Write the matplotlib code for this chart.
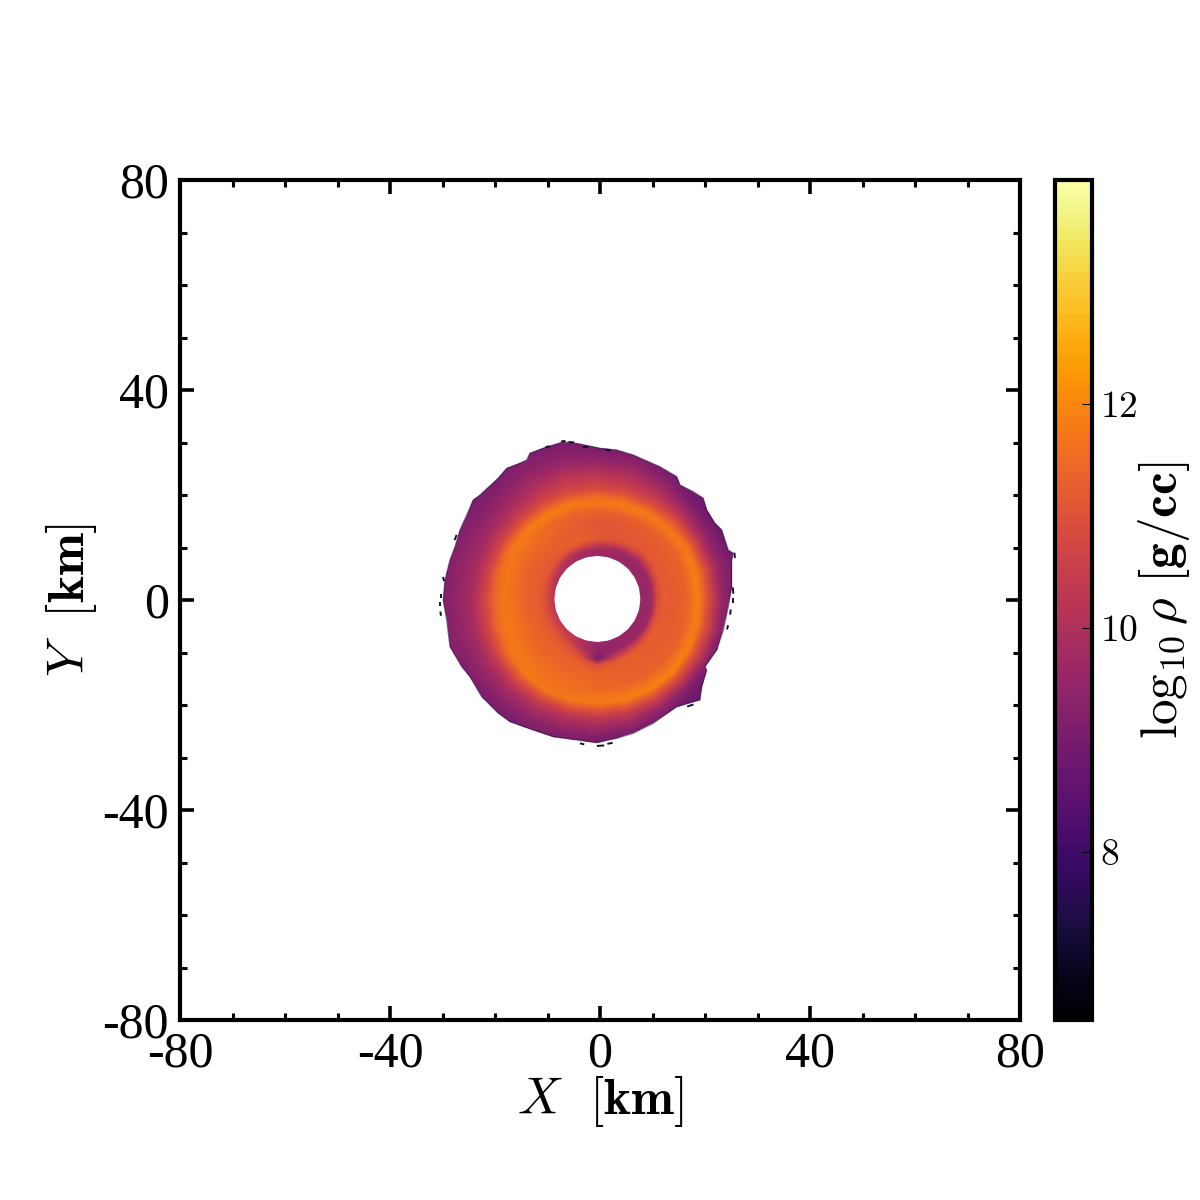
import numpy as np
import matplotlib
matplotlib.use("Agg")
import matplotlib.pyplot as plt
from matplotlib.patches import Polygon
from matplotlib.collections import LineCollection
from matplotlib.ticker import MultipleLocator, FixedLocator

# --- data ---
hole_centre = (-0.5, 0.2)
angles_deg = [0,15,30,45,60,75,90,105,120,135,150,165,180,195,210,225,240,255,270,285,300,315,330,345]
radii_km = [8.3, 9.5, 10.5, 11.5, 12.5, 14, 15.5, 17, 18, 19, 20, 21, 22.5, 24, 26, 28, 32]
log_rho = [
 [9.6,9.6,9.6,9.6,9.6,9.6,9.7,9.7,9.8,9.9,10.0,10.1,10.2,10.3,10.3,10.3,10.2,9.9,9.6,9.6,9.6,9.6,9.6,9.6],
 [9.6,9.6,9.6,9.6,9.6,9.7,9.8,9.9,10.0,10.3,10.5,10.7,10.8,10.8,10.8,10.8,10.5,9.9,9.5,9.5,9.6,9.6,9.6,9.6],
 [9.8,9.7,9.7,9.7,9.9,10.2,10.5,10.8,10.9,11.0,11.1,11.1,11.1,11.1,11.1,11.1,11.0,10.3,9.3,9.6,9.7,9.7,9.7,9.7],
 [10.9,10.8,10.6,10.5,10.9,11.0,11.2,11.35,11.3,11.2,11.2,11.25,11.25,11.25,11.25,11.25,11.2,10.9,9.0,10.3,10.7,10.8,10.9,10.95],
 [11.2,11.2,11.15,11.15,11.1,11.1,11.15,11.3,11.3,11.25,11.3,11.3,11.3,11.35,11.35,11.35,11.35,11.25,10.9,11.2,11.25,11.25,11.25,11.2],
 [11.2,11.2,11.2,11.2,11.15,11.1,11.1,11.2,11.3,11.4,11.35,11.35,11.4,11.45,11.45,11.4,11.4,11.4,11.35,11.35,11.35,11.3,11.25,11.2],
 [11.3,11.3,11.3,11.25,11.2,11.2,11.2,11.3,11.4,11.5,11.5,11.55,11.6,11.6,11.55,11.5,11.5,11.5,11.45,11.35,11.3,11.3,11.3,11.3],
 [11.35,11.35,11.35,11.35,11.4,11.4,11.4,11.45,11.5,11.6,11.65,11.7,11.7,11.7,11.7,11.65,11.6,11.55,11.5,11.4,11.35,11.35,11.35,11.35],
 [11.6,11.6,11.55,11.6,11.7,11.75,11.7,11.75,11.8,11.8,11.8,11.75,11.75,11.8,11.8,11.75,11.65,11.6,11.6,11.55,11.5,11.5,11.5,11.55],
 [11.9,11.9,11.8,11.8,11.8,11.75,11.7,11.75,11.8,11.8,11.7,11.6,11.55,11.65,11.7,11.75,11.7,11.7,11.75,11.75,11.75,11.75,11.8,11.85],
 [11.6,11.65,11.65,11.45,11.35,11.35,11.35,11.35,11.35,11.35,11.35,11.35,11.35,11.4,11.55,11.75,11.8,11.75,11.75,11.85,11.9,11.95,11.85,11.7],
 [11.0,11.05,11.0,10.9,10.85,10.85,10.85,10.85,10.85,10.8,10.8,10.8,10.85,10.95,11.1,11.2,11.2,11.2,11.2,11.25,11.25,11.2,11.15,11.05],
 [10.2,10.2,10.15,10.2,10.35,10.45,10.5,10.5,10.4,10.3,10.3,10.3,10.35,10.4,10.45,10.5,10.5,10.45,10.45,10.45,10.4,10.3,10.3,10.25],
 [9.5,9.5,9.5,9.6,9.9,10.1,10.15,10.25,10.05,9.9,9.85,9.85,9.9,9.95,9.95,9.95,9.95,9.9,9.9,9.85,9.6,9.3,9.4,9.45],
 [9.1,9.1,9.0,9.0,9.35,9.55,9.6,9.75,9.7,9.5,9.5,9.55,9.55,9.55,9.5,9.5,9.45,9.4,9.3,9.15,9.0,8.9,9.0,9.1],
 [8.8,8.8,8.8,8.8,9.0,9.2,9.2,9.35,9.4,9.25,9.3,9.35,9.35,9.35,9.25,9.15,9.1,9.05,8.9,8.9,8.8,8.7,8.8,8.8],
 [8.5,8.5,8.5,8.5,8.7,8.8,8.8,8.9,9.0,8.9,8.9,9.0,9.0,9.0,8.9,8.8,8.8,8.8,8.7,8.6,8.5,8.5,8.5,8.5],
]
edge_x = [25.08,25.39,24.44,23.17,21.9,20.31,19.68,17.77,15.23,14.6,11.42,6.34,3.17,0,-3.81,-6.99,-10.8,-13.34,-13.97,-15.24,-17.78,-19.37,-22.86,-24.13,-25.4,-26.67,-27.62,-28.58,-29.53,-29.85,-29.21,-28.58,-26.35,-24.77,-22.54,-19.37,-17.15,-12.7,-8.89,-4.45,-0.64,3.17,6.34,10.15,14.6,19.04,19.36,20.31,20,22.22,23.49,24.44,25.08]
edge_y = [7.62,8.89,9.53,13.34,14.61,17.15,19.37,20.64,21.91,23.5,25.4,27.62,28.58,28.89,29.72,30.16,28.89,27.94,26.67,26.04,25.08,23.18,20,19.05,16.19,13.34,10.16,7.62,3.81,0,-3.81,-8.88,-12.69,-14.6,-18.41,-21.58,-23.17,-24.76,-26.03,-26.66,-27.17,-26.34,-25.39,-23.49,-20.31,-19.04,-16.5,-13.33,-12.69,-9.52,-5.71,-1.27,2.54]
flecks = [
 [(-7.4,30.2),(-6.6,30.3)], [(-6.0,30.1),(-4.9,30.0)], [(-10.4,29.1),(-9.6,29.3)], [(-3.2,29.2),(-2.2,29.2)], [(1.0,28.6),(2.0,28.5)],
 [(25.3,2.4),(25.4,1.2)], [(25.3,0.4),(25.3,-0.6)], [(24.9,-1.8),(24.8,-2.8)], [(25.6,9.0),(25.7,8.0)], [(24.4,-4.8),(24.2,-5.6)],
 [(-30.2,1.2),(-30.2,0.4)], [(-30.4,-0.4),(-30.4,-1.2)], [(-30.4,-2.2),(-30.3,-3.0)], [(-27.7,11.4),(-27.3,12.4)], [(-29.9,4.4),(-29.7,3.6)],
 [(-0.6,-27.8),(0.8,-27.7)], [(1.4,-27.4),(2.4,-27.2)], [(-3.8,-27.3),(-3.0,-27.5)], [(17.8,-19.9),(16.6,-20.3)],
]
xticks = [-80, -40, 0, 40, 80]
cbar_ticks = [8, 10, 12]
vmin, vmax = 6.5, 14.0

# --- drawing ---
plt.rcParams["mathtext.fontset"] = "cm"
plt.rcParams["font.family"] = ["Liberation Serif", "DejaVu Serif"]
plt.rcParams["axes.unicode_minus"] = False

fig = plt.figure(figsize=(12, 12), dpi=100)
ax = fig.add_axes([0.15, 0.15, 0.70, 0.70])

th = np.deg2rad(np.r_[angles_deg, 360.0])
rr = np.asarray(radii_km, dtype=float)
R, T = np.meshgrid(rr, th, indexing="ij")
X = hole_centre[0] + R * np.cos(T)
Y = hole_centre[1] + R * np.sin(T)
C = np.asarray(log_rho)
C = np.column_stack([C, C[:, 0]])
mesh = ax.pcolormesh(X, Y, C, shading="gouraud", cmap="inferno", vmin=vmin, vmax=vmax, zorder=2)
edge = Polygon(np.column_stack([edge_x, edge_y]), closed=True, transform=ax.transData, fill=False,
               edgecolor="#2b0c45", lw=0.9, alpha=0.55, zorder=3)
ax.add_patch(edge)
mesh.set_clip_path(edge)
ax.add_collection(LineCollection(flecks, colors="#1d0b33", linewidths=1.4, zorder=3))

ax.set_xlim(-80, 80)
ax.set_ylim(-80, 80)
ax.set_xticks(xticks)
ax.set_yticks(xticks)
ax.xaxis.set_minor_locator(MultipleLocator(10))
ax.yaxis.set_minor_locator(MultipleLocator(10))
ax.tick_params(which="major", direction="in", top=True, right=True, length=10, width=2.6, labelsize=36, pad=8)
ax.tick_params(which="minor", direction="in", top=True, right=True, length=5, width=2.2)
for s in ax.spines.values():
    s.set_linewidth(3)
ax.set_xlabel(r"$X\ \ \mathbf{[km]}$", fontsize=37, labelpad=-3)
ax.set_ylabel(r"$Y\ \ \mathbf{[km]}$", fontsize=37, labelpad=2)

cax = fig.add_axes([1055 / 1200, 0.15, 37 / 1200, 0.70])
sm = plt.cm.ScalarMappable(norm=plt.Normalize(vmin, vmax), cmap=plt.get_cmap("inferno", 100))
cb = fig.colorbar(sm, cax=cax)
cb.outline.set_linewidth(3)
cb.set_ticks(cbar_ticks)
cb.ax.yaxis.set_minor_locator(FixedLocator([]))
cb.set_ticklabels([f"${v}$" for v in cbar_ticks])
cb.ax.tick_params(direction="in", length=7, width=0.8, pad=6, labelsize=27)
cb.set_label(r"$\log_{10}\rho\ \mathbf{[g/cc]}$", fontsize=37, labelpad=-2)

fig.savefig("out.png", dpi=100, facecolor="white")
